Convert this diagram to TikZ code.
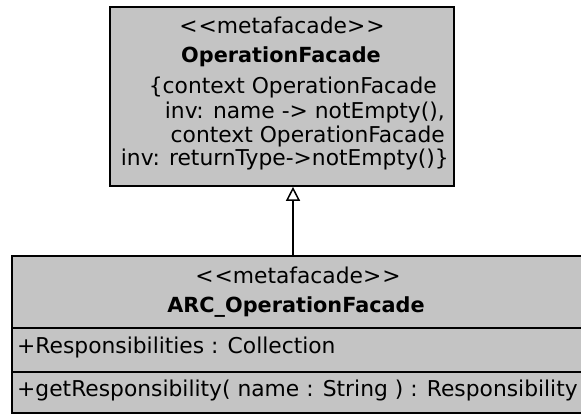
\documentclass[tikz,border=0pt]{standalone}
\usepackage{fontspec}
\setmainfont{DejaVu Sans}
\usetikzlibrary{arrows.meta}
\definecolor{boxfill}{RGB}{196,196,196}
\tikzset{
  classbox/.style={draw=black, line width=1.7pt, fill=boxfill, rectangle, inner sep=0pt},
  txt/.style={inner sep=0pt, font=\fontsize{21.8}{25}\selectfont},
  btxt/.style={inner sep=0pt, font=\fontsize{20.8}{25}\selectfont\bfseries},
  divider/.style={draw=black, line width=1.7pt},
  genarrow/.style={draw=black, line width=1.6pt, -{Triangle[open, length=14pt, width=14pt, line width=1.5pt, fill=white]}}
}
\newcommand{\stereo}{<\kern1pt<metafacade>\kern1pt>}
\begin{document}
\begin{tikzpicture}[x=1pt, y=-1pt]
  \useasboundingbox (0,0) rectangle (581,415);
  \begin{scope}
  \clip (0,0) rectangle (581,415);
  % top class
  \node[classbox, minimum width=344pt, minimum height=179pt] (op) at (282,96.5) {};
  \node[txt, anchor=mid] (opst) at (282,31) {\stereo};
  \node[btxt, anchor=mid] (opname) at (281,60) {OperationFacade};
  \node[txt, anchor=mid east] (c1) at (437,91) {\{context OperationFacade};
  \node[txt, anchor=mid east] (c2) at (445,116) {inv: name -> notEmpty(),};
  \node[txt, anchor=mid east] (c3) at (445,140) {context OperationFacade};
  \node[txt, anchor=mid east] (c4) at (449,163) {inv: returnType->notEmpty()\}};
  % bottom class
  \node[classbox, minimum width=572pt, minimum height=157pt] (arc) at (298,334.5) {};
  \coordinate (d1w) at (12,328);
  \coordinate (d2w) at (12,372);
  \draw[divider] (d1w) -- (d1w -| arc.east);
  \draw[divider] (d2w) -- (d2w -| arc.east);
  \node[txt, anchor=mid] (arcst) at (298,281) {\stereo};
  \node[btxt, anchor=mid] (arcname) at (296,310) {ARC\_OperationFacade};
  \node[txt, anchor=mid west] (attr) at (17,351) {+Responsibilities : Collection};
  \node[txt, anchor=mid west] (meth) at (17,394) {+getResponsibility( name : String ) : Responsibility};
  % generalization
  \coordinate (gx) at (293,0);
  \draw[genarrow] (arc.north -| gx) -- (op.south -| gx);
  \end{scope}
\end{tikzpicture}
\end{document}
